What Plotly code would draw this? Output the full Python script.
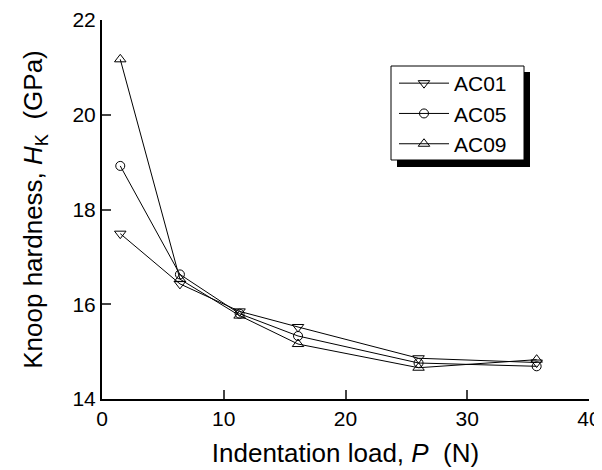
import plotly.graph_objects as go

load = [1.5, 6.4, 11.3, 16.1, 26.0, 35.7]
ac01 = [17.49, 16.43, 15.85, 15.52, 14.86, 14.77]
ac05 = [18.92, 16.63, 15.80, 15.33, 14.76, 14.69]
ac09 = [21.17, 16.53, 15.76, 15.16, 14.66, 14.83]

series = [("AC01", ac01, "triangle-down-open", 10),
          ("AC05", ac05, "circle-open", 9),
          ("AC09", ac09, "triangle-up-open", 10)]

fig = go.Figure()
for name, vals, sym, sz in series:
    fig.add_trace(go.Scatter(
        x=load, y=vals, name=name, mode="lines+markers",
        line=dict(color="black", width=1),
        marker=dict(symbol=sym, size=sz, color="black", line=dict(color="black", width=1)),
    ))

# page body has an 8px margin, so the figure is 8px smaller than the window
W, H = 594, 462
L, T, R, B = 94, 12, 13, 71
pw, ph = W - L - R, H - T - B

def px2paper(x, y):
    return (x - L) / pw, (H - B - y) / ph

# legend shadow and frame (figure pixel coordinates)
sx0, sy0 = px2paper(389, 64)
sx1, sy1 = px2paper(522, 159)
fig.add_shape(type="rect", xref="paper", yref="paper", x0=sx0, y0=sy1, x1=sx1, y1=sy0,
              fillcolor="black", line=dict(color="black", width=0), layer="above")
bx0, by0 = px2paper(383, 58)
bx1, by1 = px2paper(516, 152)
fig.add_shape(type="rect", xref="paper", yref="paper", x0=bx0, y0=by1, x1=bx1, y1=by0,
              fillcolor="white", line=dict(color="black", width=1), layer="above")

lx, ly = px2paper(386, 55)
font = "Liberation Sans, Arial, sans-serif"
fig.update_layout(
    width=W, height=H,
    margin=dict(l=L, r=R, t=T, b=B),
    paper_bgcolor="white", plot_bgcolor="white",
    font=dict(family=font, size=21, color="black"),
    showlegend=True,
    legend=dict(x=lx, y=ly, xanchor="left", yanchor="top",
                bgcolor="rgba(0,0,0,0)", borderwidth=0,
                font=dict(size=21), itemwidth=50, tracegroupgap=0),
    xaxis=dict(range=[0, 40], tickvals=[0, 10, 20, 30, 40], ticks="inside", ticklen=9,
               tickwidth=2, showline=True, linewidth=2, linecolor="black", mirror=False,
               showgrid=False, zeroline=False, automargin=False,
               tickfont=dict(size=21),
               title=dict(text="Indentation load, <i>P</i>\u00a0\u00a0(N)",
                          font=dict(size=26), standoff=15)),
    yaxis=dict(range=[14, 22], tickvals=[14, 16, 18, 20, 22], ticks="inside", ticklen=9,
               tickwidth=2, showline=True, linewidth=2, linecolor="black", mirror=False,
               showgrid=False, zeroline=False, automargin=False,
               tickfont=dict(size=21),
               title=dict(text="Knoop hardness, <i>H</i><sub>K</sub>\u00a0\u00a0(GPa)",
                          font=dict(size=26), standoff=22)),
)

fig.write_html("out.html")
